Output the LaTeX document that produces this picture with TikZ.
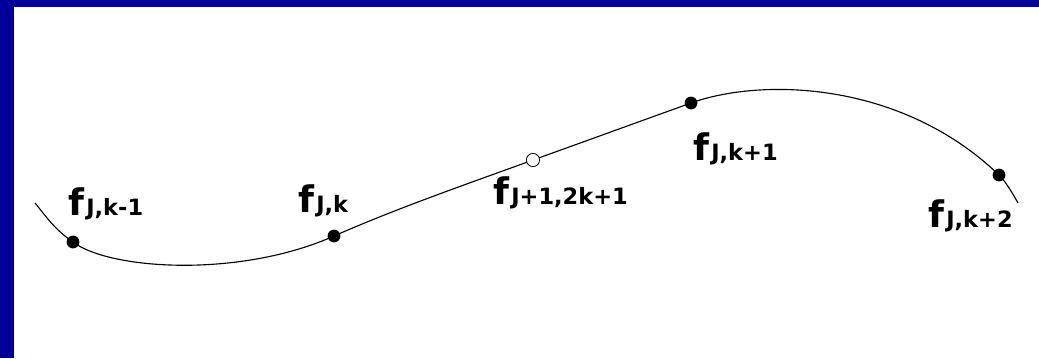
\documentclass[tikz,border=0pt]{standalone}
\usepackage{fontspec}
\setmainfont{DejaVu Sans}
\usetikzlibrary{positioning}
\definecolor{keret}{RGB}{0,0,153}
\tikzset{
  dot/.style={circle,fill,inner sep=0pt,minimum size=0.32cm},
  hollow/.style={circle,draw,fill=white,line width=0.6pt,inner sep=0pt,minimum size=0.33cm},
  lbl/.style={anchor=north west,inner sep=0pt,font=\bfseries},
  seg/.style={line width=0.8pt},
}
\newcommand{\flab}[1]{{\fontsize{26}{26}\selectfont f}\kern1.5pt%
  \raisebox{-0.5pt}{\fontsize{16}{16}\selectfont #1}}

\begin{document}
\begin{tikzpicture}[x=0.025cm,y=-0.025cm]
  \useasboundingbox (0,0) rectangle (1039,358);
  \fill[keret] (0,0) rectangle (1039,7);
  \fill[keret] (0,0) rectangle (14,358);
  % sample points
  \coordinate (s) at (35,203);
  \coordinate (p1) at (73,242);
  \coordinate (p2) at (334,236);
  \coordinate (q) at (533,160);
  \coordinate (p3) at (691,103);
  \coordinate (p4) at (999,175);
  \coordinate (e) at (1018,203);
  % curve through the samples
  \draw[seg] (s) .. controls (45,215) and (54,229) .. (p1)
    .. controls (110,270) and (240,278) .. (p2)
    .. controls (400,207) and (470,183) .. (q)
    .. controls (586,141) and (638,122) .. (p3)
    .. controls (760,78) and (900,80) .. (p4)
    .. controls (1006,182) and (1013,194) .. (e);
  \foreach \p in {p1,p2,p3,p4}
    \node[dot] (d\p) at (\p) {};
  \node[hollow] (dq) at (q) {};
  % labels
  \node[lbl] (l1) at (68,187) {\flab{J,k-1}};
  \node[lbl] (l2) at (298,184) {\flab{J,k}};
  \node[lbl] (lq) at (493,176) {\flab{J+1,2k+1}};
  \node[lbl] (l3) at (693,132) {\flab{J,k+1}};
  \node[lbl] (l4) at (928,199) {\flab{J,k+2}};
\end{tikzpicture}
\end{document}
